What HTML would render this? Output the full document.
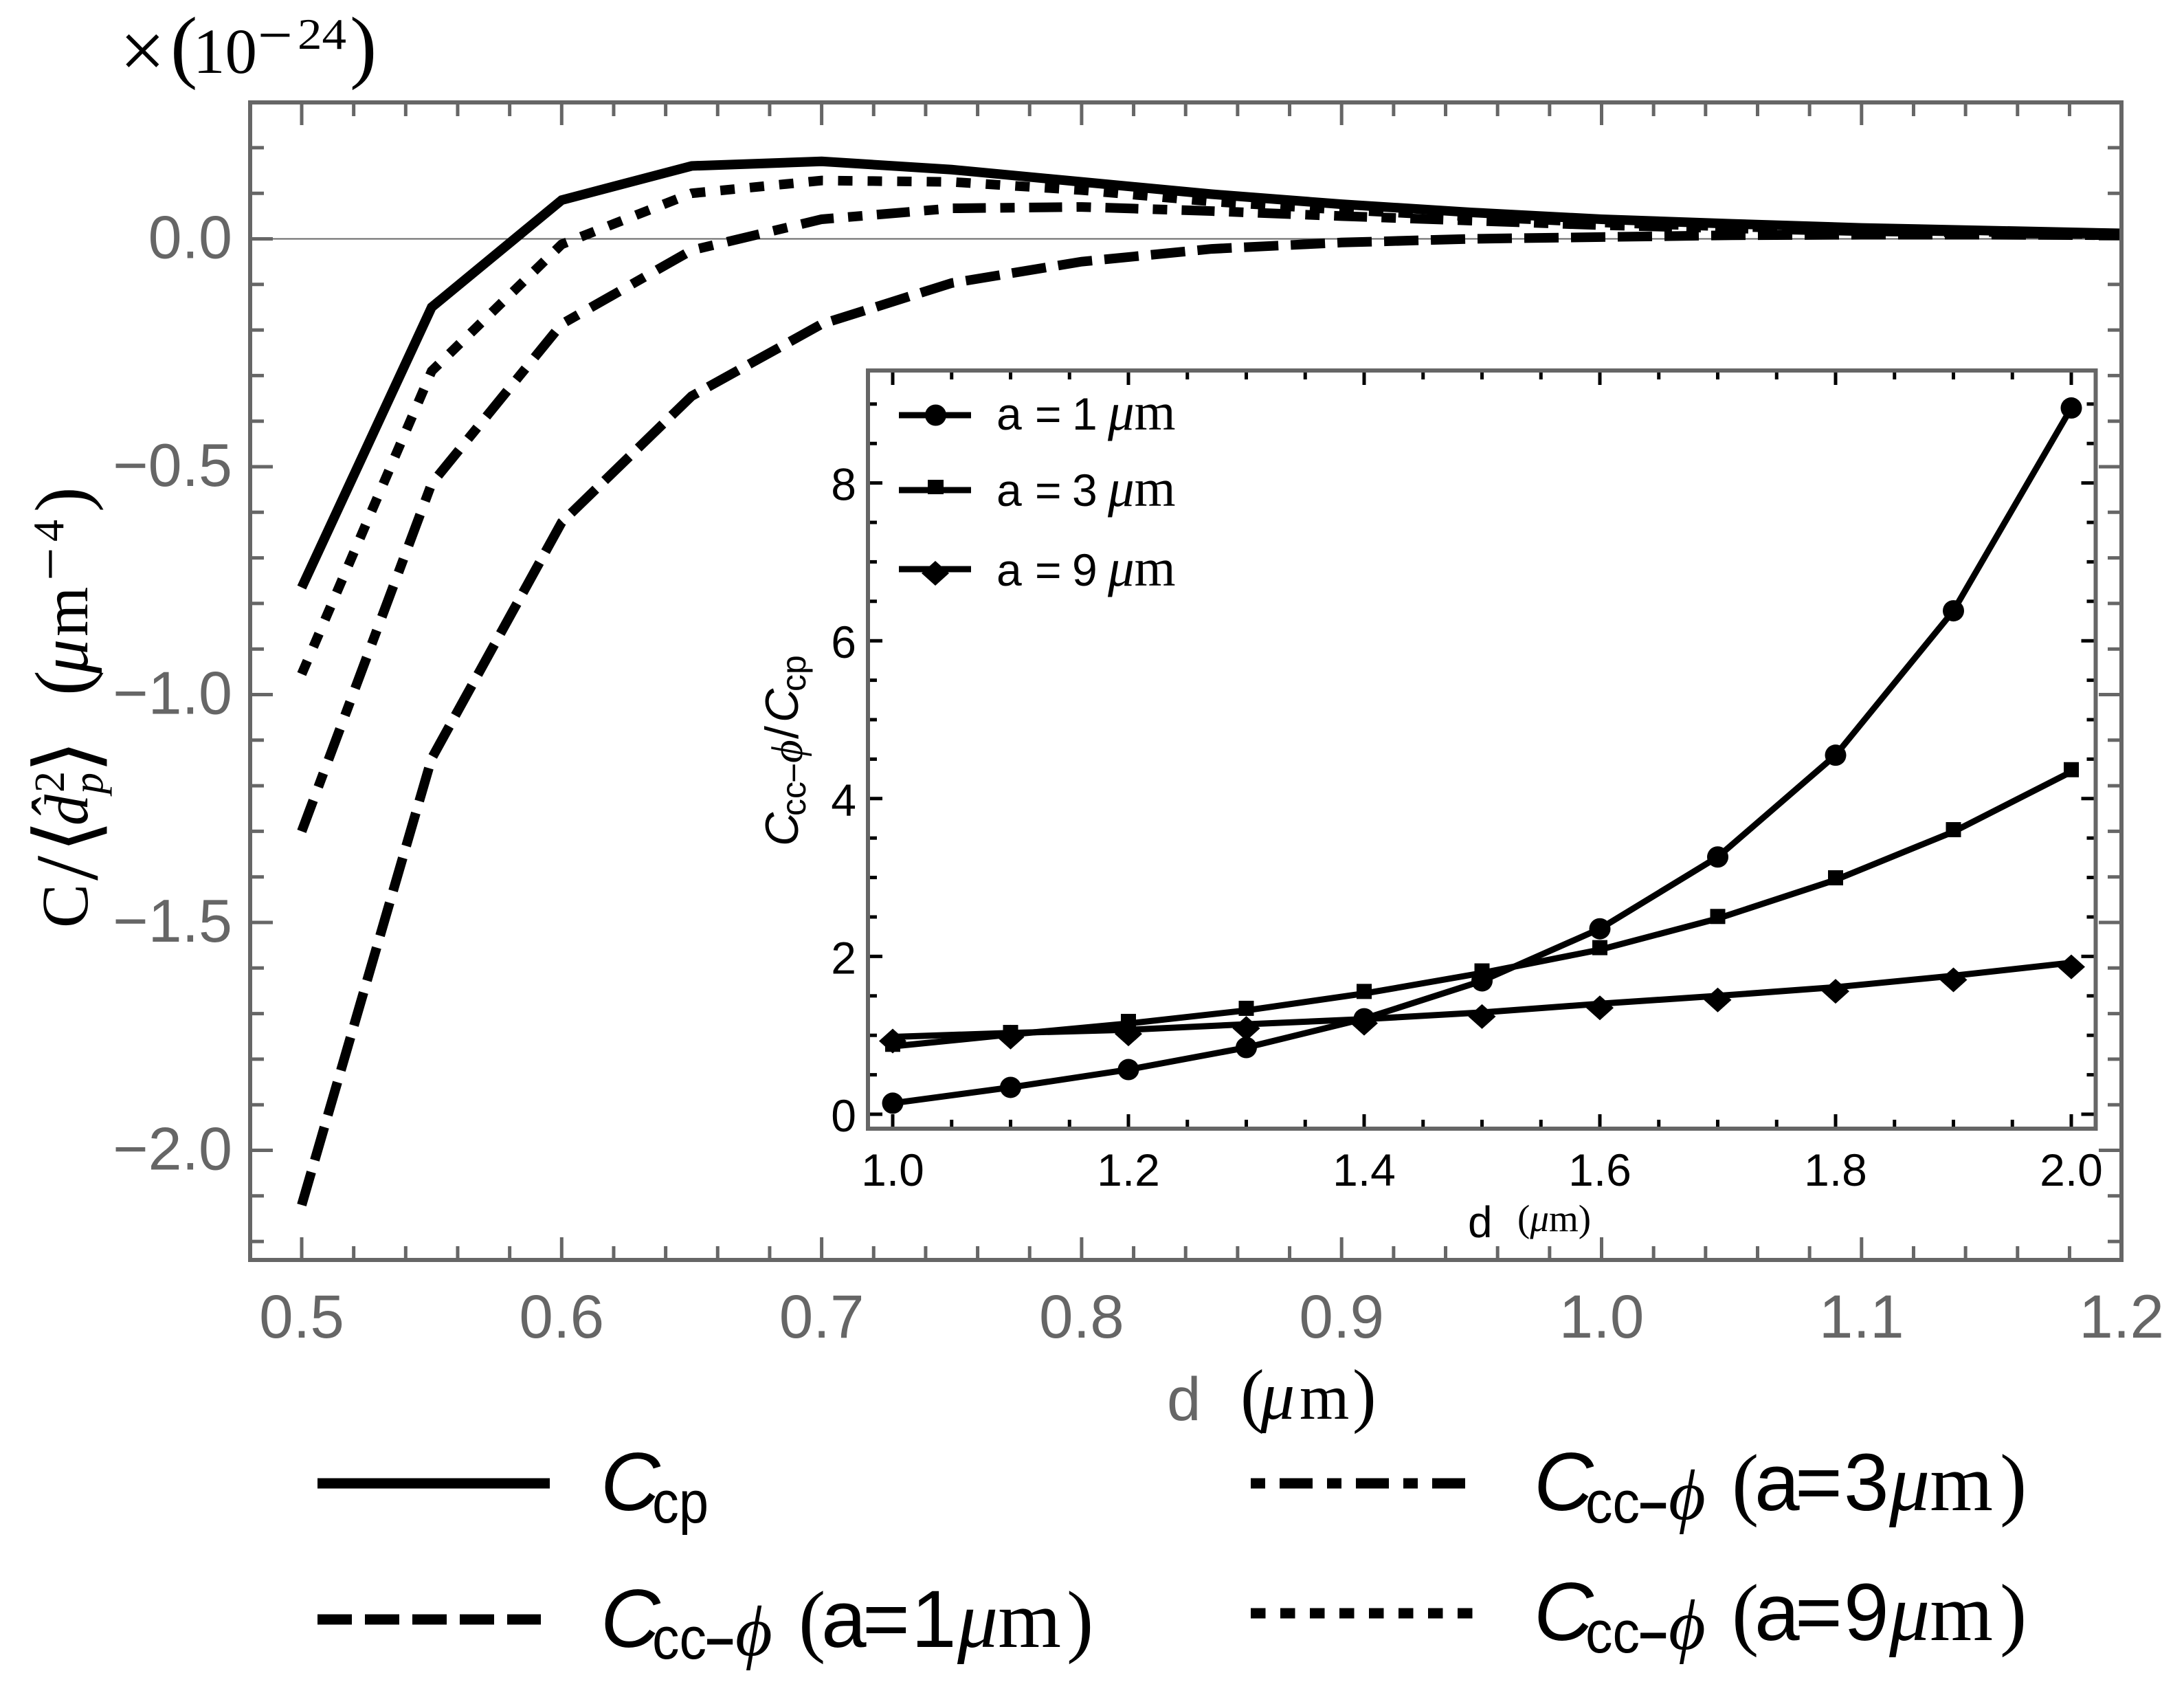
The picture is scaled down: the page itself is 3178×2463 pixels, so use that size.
<!DOCTYPE html>
<html lang="en">
<head>
<meta charset="utf-8">
<title>Casimir coefficient chart</title>
<style>
html,body{margin:0;padding:0;background:#fff;}
svg{display:block;position:absolute;left:0;top:0;}
text{white-space:pre;}
.sans{font-family:"Liberation Sans",sans-serif;}
.serif{font-family:"Liberation Serif",serif;}
.it{font-style:italic;}
</style>
</head>
<body>
<svg id="chart" xmlns="http://www.w3.org/2000/svg" width="3178" height="2463" viewBox="0 0 3178 2463">
<rect x="0" y="0" width="3178" height="2463" fill="#fff"/>
<g id="main-plot"></g>

<g class="serif" fill="#000">
<text x="174" y="113" font-size="118">×</text>
<text x="248" y="106" font-size="118">(</text>
<text x="281" y="106" font-size="93">10</text>
<text x="375" y="81" font-size="90">−</text>
<text x="433" y="71" font-size="64" textLength="71" lengthAdjust="spacingAndGlyphs">24</text>
<text x="509" y="106" font-size="118">)</text>
</g>

<g transform="translate(127 1347) rotate(-90)" fill="#000" class="serif">
<text x="-3" y="0" font-size="96">C</text>
<text x="66" y="14" font-size="130" >/</text>
<text x="106" y="12" font-size="125" style="font-family:'DejaVu Sans',sans-serif">⟨</text>
<text x="146" y="0" font-size="90" class="it">d̂</text>
<text x="194" y="-34" font-size="62">2</text>
<text x="192" y="22" font-size="62" class="it">p</text>
<text x="222" y="12" font-size="125" style="font-family:'DejaVu Sans',sans-serif">⟩</text>
<text x="335" y="0" font-size="110">(</text>
<text x="367" y="0" font-size="100" class="it">μ</text>
<text x="421" y="0" font-size="93">m</text>
<text x="502" y="-25" font-size="86">−</text>
<text x="559" y="-35" font-size="64">4</text>
<text x="602" y="0" font-size="110">)</text>
</g>

<g fill="#000">
<text x="1698" y="2066" font-size="89" class="sans" fill="#666">d</text>
<text x="1805" y="2064" font-size="104" class="serif">(</text>
<text x="1834" y="2064" font-size="100" class="serif it">μ</text>
<text x="1891" y="2064" font-size="93" class="serif">m</text>
<text x="1968" y="2064" font-size="104" class="serif">)</text>
</g>

<g id="inset-plot"></g>

<g transform="translate(1161 1228) rotate(-90)" fill="#000" class="sans">
<text x="-3" y="0" font-size="68" class="it">C</text>
<text x="41" y="11" font-size="50">cc</text>
<text x="89" y="11" font-size="50">−</text>
<text x="118" y="6" font-size="65" class="serif it">ϕ</text>
<text x="153" y="0" font-size="68">/</text>
<text x="177" y="0" font-size="68" class="it">C</text>
<text x="222" y="11" font-size="50">cp</text>
</g>

<g fill="#000">
<text x="2136" y="1800" font-size="64" class="sans">d</text>
<text x="2208" y="1791" font-size="55" class="serif">(<tspan class="it">μ</tspan>m)</text>
</g>

<g fill="#000">
<g>
<line x1="1308" x2="1413" y1="604" y2="604" stroke="#000" stroke-width="9"/>
<circle cx="1361.5" cy="604" r="15.5"/>
<text x="1450" y="625" font-size="66" class="sans">a</text>
<text x="1506" y="625" font-size="66" class="sans">=</text>
<text x="1560" y="625" font-size="66" class="sans">1</text>
<text x="1612" y="625" font-size="77" class="serif"><tspan class="it">μ</tspan>m</text>
</g>
<g>
<line x1="1308" x2="1413" y1="713" y2="713" stroke="#000" stroke-width="9"/>
<rect x="1350" y="698" width="23" height="21"/>
<text x="1450" y="736" font-size="66" class="sans">a</text>
<text x="1506" y="736" font-size="66" class="sans">=</text>
<text x="1560" y="736" font-size="66" class="sans">3</text>
<text x="1612" y="736" font-size="77" class="serif"><tspan class="it">μ</tspan>m</text>
</g>
<g>
<line x1="1308" x2="1413" y1="828" y2="828" stroke="#000" stroke-width="9"/>
<polygon points="1361,816 1381,834 1361,852 1341,834"/>
<text x="1450" y="852" font-size="66" class="sans">a</text>
<text x="1506" y="852" font-size="66" class="sans">=</text>
<text x="1560" y="852" font-size="66" class="sans">9</text>
<text x="1612" y="852" font-size="77" class="serif"><tspan class="it">μ</tspan>m</text>
</g>
</g>

<g fill="#000">
<g>
<line x1="462" x2="800" y1="2158" y2="2158" stroke="#000" stroke-width="15"/>
<text x="874" y="2197" font-size="120" class="sans it">C</text>
<text x="949" y="2215" font-size="86" class="sans" textLength="82" lengthAdjust="spacingAndGlyphs">cp</text>
</g>
<g>
<line x1="462" x2="787" y1="2356" y2="2356" stroke="#000" stroke-width="15" stroke-dasharray="50 19"/>
<text x="874" y="2396" font-size="120" class="sans it">C</text>
<text x="949" y="2413" font-size="86" class="sans" textLength="79" lengthAdjust="spacingAndGlyphs">cc</text>
<text x="1026" y="2413" font-size="74" class="sans" font-weight="bold">−</text>
<text x="1070" y="2408" font-size="104" class="serif it">ϕ</text>
<text x="1162" y="2396" font-size="118" class="serif">(</text>
<text x="1195 1255 1326" y="2396" font-size="118" class="sans">a=1</text>
<text x="1393" y="2396" font-size="118" class="serif"><tspan class="it">μ</tspan>m</text>
<text x="1552" y="2396" font-size="118" class="serif">)</text>
</g>
<g>
<line x1="1820" x2="2135" y1="2158" y2="2158" stroke="#000" stroke-width="15" stroke-dasharray="21 21 48 21"/>
<text x="2232" y="2197" font-size="120" class="sans it">C</text>
<text x="2307" y="2215" font-size="86" class="sans" textLength="79" lengthAdjust="spacingAndGlyphs">cc</text>
<text x="2384" y="2215" font-size="74" class="sans" font-weight="bold">−</text>
<text x="2428" y="2210" font-size="104" class="serif it">ϕ</text>
<text x="2520" y="2197" font-size="118" class="serif">(</text>
<text x="2553 2612 2683" y="2197" font-size="118" class="sans">a=3</text>
<text x="2749" y="2197" font-size="118" class="serif"><tspan class="it">μ</tspan>m</text>
<text x="2910" y="2197" font-size="118" class="serif">)</text>
</g>
<g>
<line x1="1820" x2="2144" y1="2347" y2="2347" stroke="#000" stroke-width="15" stroke-dasharray="21.5 21.5"/>
<text x="2232" y="2386" font-size="120" class="sans it">C</text>
<text x="2307" y="2404" font-size="86" class="sans" textLength="79" lengthAdjust="spacingAndGlyphs">cc</text>
<text x="2384" y="2404" font-size="74" class="sans" font-weight="bold">−</text>
<text x="2428" y="2399" font-size="104" class="serif it">ϕ</text>
<text x="2520" y="2386" font-size="118" class="serif">(</text>
<text x="2553 2612 2683" y="2386" font-size="118" class="sans">a=9</text>
<text x="2749" y="2386" font-size="118" class="serif"><tspan class="it">μ</tspan>m</text>
<text x="2910" y="2386" font-size="118" class="serif">)</text>
</g>
</g>
</svg>

<script>
const mainD = [0.5,0.55,0.6,0.65,0.7,0.75,0.8,0.85,0.9,0.95,1.0,1.05,1.1,1.15,1.2];
const seriesCp = [-0.765,-0.15,0.085,0.16,0.17,0.152,0.125,0.098,0.076,0.058,0.043,0.033,0.024,0.018,0.012];
const seriesA1 = [-2.12,-1.14,-0.622,-0.345,-0.187,-0.097,-0.05,-0.022,-0.008,0,0.004,0.008,0.009,0.009,0.008];
const seriesA3 = [-1.30,-0.537,-0.187,-0.025,0.043,0.067,0.07,0.061,0.05,0.04,0.03,0.023,0.017,0.013,0.01];
const seriesA9 = [-0.955,-0.29,-0.012,0.10,0.128,0.125,0.107,0.082,0.064,0.049,0.036,0.027,0.02,0.015,0.011];
const mainXTicks = ["0.5","0.6","0.7","0.8","0.9","1.0","1.1","1.2"];
const mainYTicks = ["0.0","−0.5","−1.0","−1.5","−2.0"];

const insetD = [1.0,1.1,1.2,1.3,1.4,1.5,1.6,1.7,1.8,1.9,2.0];
const ratioA1 = [0.14,0.34,0.566,0.845,1.21,1.69,2.35,3.26,4.55,6.38,8.95];
const ratioA3 = [0.86,1.01,1.15,1.316,1.53,1.79,2.085,2.48,2.97,3.58,4.34];
const ratioA9 = [0.98,1.03,1.07,1.14,1.205,1.29,1.40,1.50,1.61,1.755,1.92];
const insetXTicks = ["1.0","1.2","1.4","1.6","1.8","2.0"];
const insetYTicks = ["0","2","4","6","8"];

const NS = "http://www.w3.org/2000/svg";
function mk(parent, tag, attrs, name) {
  const el = document.createElementNS(NS, tag);
  for (const k in attrs) el.setAttribute(k, attrs[k]);
  
  
  parent.appendChild(el);
  return el;
}
function num(s) { return parseFloat(s.replace("−", "-")); }
function pts(xs, ys, sx, sy) { return xs.map((v, i) => sx(v).toFixed(2) + "," + sy(ys[i]).toFixed(2)).join(" "); }

/* main plot */
const main = document.getElementById("main-plot");
const mx = d => 439 + (d - 0.5) * 3783;
const my = v => 347.5 - v * 663;
const F = {l:364, r:3087, t:149, b:1833};
const grey = "#666";
const tickW = 5;

mk(main, "line", {x1:F.l, x2:F.r, y1:my(0), y2:my(0), stroke:grey, "stroke-width":2}, "zero-line");

for (let k = 1; k <= 34; k++) {
  const d = 0.5 + k * 0.02;
  if (k % 5 === 0) continue;
  const x = mx(d);
  if (x >= F.r) continue;
  mk(main, "line", {x1:x, x2:x, y1:F.b, y2:F.b - 20, stroke:grey, "stroke-width":tickW}, "x-minor-tick");
  mk(main, "line", {x1:x, x2:x, y1:F.t, y2:F.t + 20, stroke:grey, "stroke-width":tickW}, "x-minor-tick-top");
}
mainXTicks.forEach(t => {
  const x = mx(num(t));
  if (num(t) < 1.2) {
    mk(main, "line", {x1:x, x2:x, y1:F.b, y2:F.b - 33, stroke:grey, "stroke-width":tickW}, "x-major-tick");
    mk(main, "line", {x1:x, x2:x, y1:F.t, y2:F.t + 33, stroke:grey, "stroke-width":tickW}, "x-major-tick-top");
  }
  const lab = mk(main, "text", {x:x, y:1946, "font-size":89, "text-anchor":"middle", fill:grey, class:"sans"}, "x-tick-label");
  lab.textContent = t;
});
for (let k = -22; k <= 2; k++) {
  if (k % 5 === 0) continue;
  const y = my(k / 10);
  mk(main, "line", {x1:F.l, x2:F.l + 20, y1:y, y2:y, stroke:grey, "stroke-width":tickW}, "y-minor-tick");
  mk(main, "line", {x1:F.r, x2:F.r - 20, y1:y, y2:y, stroke:grey, "stroke-width":tickW}, "y-minor-tick-right");
}
mainYTicks.forEach(t => {
  const y = my(num(t));
  mk(main, "line", {x1:F.l, x2:F.l + 33, y1:y, y2:y, stroke:grey, "stroke-width":tickW}, "y-major-tick");
  mk(main, "line", {x1:F.r, x2:F.r - 33, y1:y, y2:y, stroke:grey, "stroke-width":tickW}, "y-major-tick-right");
  const lab = mk(main, "text", {x:338, y:y + 28, "font-size":88, "text-anchor":"end", fill:grey, class:"sans"}, "y-tick-label");
  lab.textContent = t;
});

const lineCommon = {fill:"none", stroke:"#000", "stroke-width":14, "stroke-linejoin":"miter", "stroke-linecap":"butt"};
mk(main, "polyline", Object.assign({points:pts(mainD, seriesCp, mx, my)}, lineCommon), "series-cp");
mk(main, "polyline", Object.assign({points:pts(mainD, seriesA1, mx, my), "stroke-dasharray":"50 18"}, lineCommon), "series-cc-phi-a1");
mk(main, "polyline", Object.assign({points:pts(mainD, seriesA3, mx, my), "stroke-dasharray":"48 21 21 21"}, lineCommon), "series-cc-phi-a3");
mk(main, "polyline", Object.assign({points:pts(mainD, seriesA9, mx, my), "stroke-dasharray":"21 22"}, lineCommon), "series-cc-phi-a9");

mk(main, "rect", {x:F.l, y:F.t, width:F.r - F.l, height:F.b - F.t, fill:"none", stroke:grey, "stroke-width":6}, "main-plot-frame");

/* inset plot */
const inset = document.getElementById("inset-plot");
const ix = d => 1299 + (d - 1) * 1715;
const iy = v => 1621 - v * 114.8;
const G = {l:1263, r:3049.5, t:539, b:1642};

mk(inset, "rect", {x:G.l, y:G.t, width:G.r - G.l, height:G.b - G.t, fill:"#fff"}, "inset-background");

for (let k = 0; k <= 20; k++) {
  const d = 1 + k * 0.05;
  const x = ix(d);
  const major = k % 4 === 0;
  const len = major ? 21 : 13;
  mk(inset, "line", {x1:x, x2:x, y1:G.b, y2:G.b - len, stroke:"#000", "stroke-width":tickW}, "inset-x-tick");
  mk(inset, "line", {x1:x, x2:x, y1:G.t, y2:G.t + len, stroke:"#000", "stroke-width":tickW}, "inset-x-tick-top");
}
for (let k = 0; k <= 18; k++) {
  const y = iy(k * 0.5);
  const major = k % 4 === 0;
  const len = major ? 21 : 13;
  mk(inset, "line", {x1:G.l, x2:G.l + len, y1:y, y2:y, stroke:"#000", "stroke-width":tickW}, "inset-y-tick");
  mk(inset, "line", {x1:G.r, x2:G.r - len, y1:y, y2:y, stroke:"#000", "stroke-width":tickW}, "inset-y-tick-right");
}
insetXTicks.forEach(t => {
  const lab = mk(inset, "text", {x:ix(num(t)), y:1725, "font-size":66, "text-anchor":"middle", fill:"#000", class:"sans"}, "inset-x-tick-label");
  lab.textContent = t;
});
insetYTicks.forEach(t => {
  const lab = mk(inset, "text", {x:1246, y:iy(num(t)) + 25, "font-size":66, "text-anchor":"end", fill:"#000", class:"sans"}, "inset-y-tick-label");
  lab.textContent = t;
});

const insetLine = {fill:"none", stroke:"#000", "stroke-width":9, "stroke-linejoin":"miter"};
mk(inset, "polyline", Object.assign({points:pts(insetD, ratioA1, ix, iy)}, insetLine), "inset-series-a1");
mk(inset, "polyline", Object.assign({points:pts(insetD, ratioA3, ix, iy)}, insetLine), "inset-series-a3");
mk(inset, "polyline", Object.assign({points:pts(insetD, ratioA9, ix, iy)}, insetLine), "inset-series-a9");

insetD.forEach((d, i) => {
  mk(inset, "circle", {cx:ix(d), cy:iy(ratioA1[i]), r:15.5, fill:"#000"}, "inset-marker-a1");
  mk(inset, "rect", {x:ix(d) - 11, y:iy(ratioA3[i]) - 14, width:22, height:22, fill:"#000"}, "inset-marker-a3");
  const cx = ix(d), cy = iy(ratioA9[i]) + 6;
  mk(inset, "polygon", {points:[cx, cy - 18, cx + 20, cy, cx, cy + 18, cx - 20, cy].join(" "), fill:"#000"}, "inset-marker-a9");
});

mk(inset, "rect", {x:G.l, y:G.t, width:G.r - G.l, height:G.b - G.t, fill:"none", stroke:grey, "stroke-width":6}, "inset-plot-frame");
</script>
</body>
</html>
